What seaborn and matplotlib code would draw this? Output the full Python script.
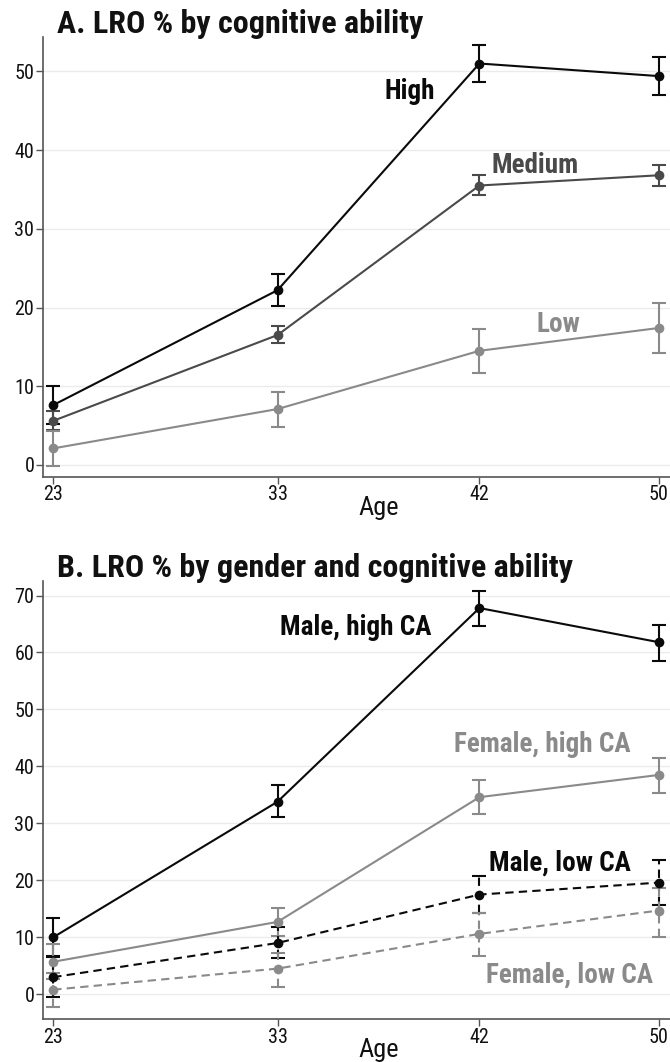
import pandas as pd
import seaborn as sns
import matplotlib.pyplot as plt

ages = [23, 33, 42, 50]

# panel A: LRO % by cognitive ability (estimate, lower, upper)
high = [7.6, 22.2, 51.0, 49.4]
high_lo = [5.2, 20.2, 48.7, 47.0]
high_hi = [10.0, 24.2, 53.3, 51.8]
medium = [5.6, 16.5, 35.5, 36.8]
medium_lo = [4.4, 15.5, 34.3, 35.5]
medium_hi = [6.8, 17.6, 36.8, 38.1]
low = [2.1, 7.1, 14.5, 17.4]
low_lo = [-0.2, 4.8, 11.7, 14.2]
low_hi = [4.3, 9.3, 17.3, 20.6]

# panel B: LRO % by gender and cognitive ability
male_high = [10.0, 33.8, 67.8, 61.8]
male_high_lo = [6.8, 31.1, 64.7, 58.5]
male_high_hi = [13.3, 36.7, 70.8, 64.9]
female_high = [5.7, 12.7, 34.6, 38.5]
female_high_lo = [2.6, 10.2, 31.6, 35.4]
female_high_hi = [8.8, 15.2, 37.6, 41.5]
male_low = [3.0, 9.0, 17.5, 19.6]
male_low_lo = [-0.4, 6.3, 14.2, 15.7]
male_low_hi = [6.5, 11.8, 20.8, 23.5]
female_low = [0.8, 4.5, 10.6, 14.7]
female_low_lo = [-2.3, 1.3, 6.7, 10.1]
female_low_hi = [3.7, 7.3, 14.2, 18.7]

BLACK = "#0a0a0a"
DARK = "#4a4a4a"
GRAY = "#8a8a8a"

sns.set_theme(style="white")
plt.rcParams["font.family"] = ["Roboto Condensed", "Liberation Sans Narrow",
                               "Roboto", "DejaVu Sans"]

# the original chart is cropped at the right, so the axes run past the edge
fig = plt.figure(figsize=(6.7, 10.62), dpi=100)
ax_a = fig.add_axes([0.0637, 0.5511, 1.0034, 0.4143])
ax_b = fig.add_axes([0.0637, 0.0402, 1.0034, 0.4130])


def make_df(series):
    rows = []
    for name, vals in series:
        for a, v in zip(ages, vals):
            rows.append({"age": a, "pct": v, "group": name})
    return pd.DataFrame(rows)


def draw(ax, series, los, his, colors, dashes):
    df = make_df(series)
    names = [s[0] for s in series]
    sns.lineplot(data=df, x="age", y="pct", hue="group", style="group",
                 palette=dict(zip(names, colors)),
                 dashes=dict(zip(names, dashes)),
                 markers=dict(zip(names, ["o"] * len(names))),
                 markersize=7, markeredgewidth=0, linewidth=1.5,
                 legend=False, ax=ax, zorder=3)
    for (name, vals), lo, hi, c, d in zip(series, los, his, colors, dashes):
        err = [[v - l for v, l in zip(vals, lo)], [h - v for v, h in zip(vals, hi)]]
        eb = ax.errorbar(ages, vals, yerr=err, fmt="none", ecolor=c,
                         elinewidth=1.5, capsize=5, capthick=1.5, zorder=2)
        if d != "":
            for lc in eb[2]:
                lc.set_linestyle((0, (4, 2.5)))


def style_axes(ax, yticks, ylim):
    ax.set_xlim(22.53, 52.5)
    ax.set_ylim(*ylim)
    ax.set_xticks(ages)
    ax.set_yticks(yticks)
    ax.grid(axis="y", color="#ebebeb", linewidth=1.0)
    ax.set_axisbelow(True)
    for s in ["top", "right"]:
        ax.spines[s].set_visible(False)
    for s in ["left", "bottom"]:
        ax.spines[s].set_color("#555555")
        ax.spines[s].set_linewidth(1.2)
    ax.tick_params(axis="both", direction="out", length=5, width=1,
                   color="#555555", labelsize=14.5, labelcolor="#111111",
                   left=True, bottom=True, pad=1)
    ax.set_xlabel("Age", fontsize=19, labelpad=-6, color="#111111")
    ax.set_ylabel("")


draw(ax_a,
     [("High", high), ("Medium", medium), ("Low", low)],
     [high_lo, medium_lo, low_lo], [high_hi, medium_hi, low_hi],
     [BLACK, DARK, GRAY], ["", "", ""])
style_axes(ax_a, [0, 10, 20, 30, 40, 50], (-1.5, 54.4))
ax_a.set_title("A. LRO % by cognitive ability", loc="left", x=0.021,
               fontsize=23, fontweight="bold", pad=3, color="#111111")
lab = dict(fontsize=19.5, fontweight="bold", ha="center", va="center")
ax_a.text(38.9, 47.4, "High", color=BLACK, **lab)
ax_a.text(44.5, 38.0, "Medium", color=DARK, **lab)
ax_a.text(45.5, 17.8, "Low", color=GRAY, **lab)

draw(ax_b,
     [("Male, high CA", male_high), ("Female, high CA", female_high),
      ("Male, low CA", male_low), ("Female, low CA", female_low)],
     [male_high_lo, female_high_lo, male_low_lo, female_low_lo],
     [male_high_hi, female_high_hi, male_low_hi, female_low_hi],
     [BLACK, GRAY, BLACK, GRAY], ["", "", (4, 2.5), (4, 2.5)])
style_axes(ax_b, [0, 10, 20, 30, 40, 50, 60, 70], (-4.4, 72.6))
ax_b.set_title("B. LRO % by gender and cognitive ability", loc="left", x=0.021,
               fontsize=23, fontweight="bold", pad=3, color="#111111")
ax_b.text(36.5, 64.3, "Male, high CA", color=BLACK, **lab)
ax_b.text(44.8, 43.8, "Female, high CA", color=GRAY, **lab)
ax_b.text(45.6, 23.0, "Male, low CA", color=BLACK, **lab)
ax_b.text(46.0, 3.4, "Female, low CA", color=GRAY, **lab)

fig.savefig("out.png", dpi=100)
